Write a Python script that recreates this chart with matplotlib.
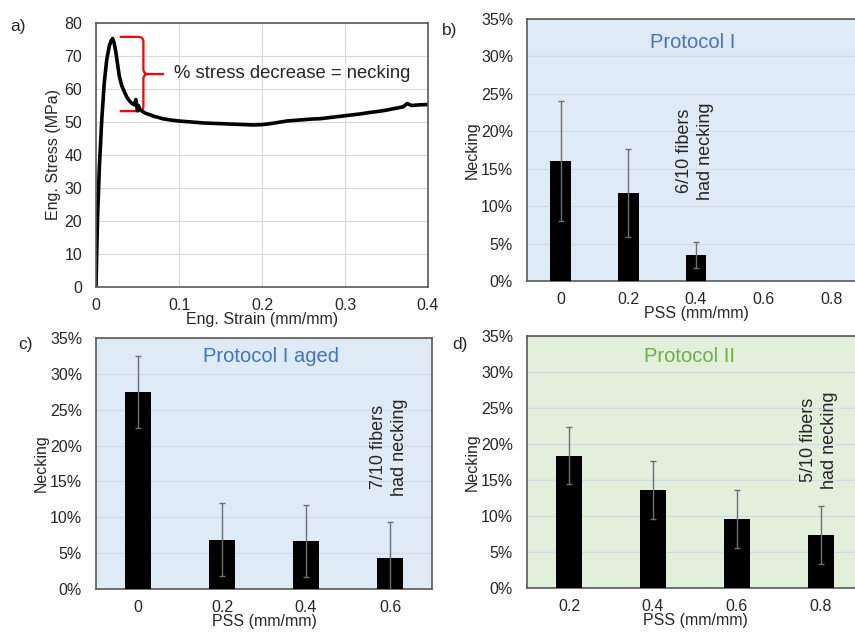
import numpy as np
import matplotlib
matplotlib.use("Agg")
import matplotlib.pyplot as plt
from matplotlib.path import Path
from matplotlib.patches import PathPatch

plt.rcParams['font.family'] = ['Liberation Sans', 'DejaVu Sans']

W, H = 855, 632

# --- panel a: stress-strain curve ---
strain = [0, 0.001, 0.002, 0.004, 0.007, 0.010, 0.013, 0.016, 0.018, 0.020,
          0.022, 0.024, 0.026, 0.028, 0.031, 0.034, 0.037, 0.040, 0.043, 0.046,
          0.048, 0.050, 0.051, 0.053, 0.056, 0.060, 0.065, 0.070, 0.075, 0.080,
          0.090, 0.100, 0.110, 0.120, 0.130, 0.140, 0.150, 0.160, 0.170, 0.180,
          0.190, 0.200, 0.210, 0.220, 0.230, 0.240, 0.250, 0.260, 0.270, 0.280,
          0.290, 0.300, 0.310, 0.320, 0.330, 0.340, 0.350, 0.360, 0.370, 0.375,
          0.380, 0.390, 0.400]
stress = [0, 12, 22, 36, 51, 62, 69, 73, 74.5, 75.3,
          73.8, 71, 67.5, 64, 61, 59.3, 57.6, 56.5, 55.7, 55.2,
          56.8, 53.4, 55.0, 53.8, 53.2, 52.6, 52.2, 51.7, 51.4, 51.0,
          50.6, 50.3, 50.1, 49.9, 49.7, 49.6, 49.5, 49.4, 49.3, 49.2,
          49.1, 49.2, 49.5, 49.9, 50.3, 50.5, 50.7, 50.9, 51.0, 51.3,
          51.6, 51.9, 52.2, 52.5, 52.9, 53.2, 53.6, 54.1, 54.6, 55.6,
          55.0, 55.2, 55.3]

# --- bar panels ---
pss_b = ["0", "0.2", "0.4", "0.6", "0.8"]
neck_b = [16.0, 11.8, 3.5, 0, 0]
err_b = [8.0, 5.9, 1.75, 0, 0]

pss_c = ["0", "0.2", "0.4", "0.6"]
neck_c = [27.5, 6.9, 6.7, 4.3]
err_c = [5.0, 5.1, 5.0, 5.0]

pss_d = ["0.2", "0.4", "0.6", "0.8"]
neck_d = [18.4, 13.6, 9.6, 7.4]
err_d = [4.0, 4.0, 4.0, 4.0]

# brace levels (MPa) and strain position
brace_top, brace_bot = 75.8, 53.3
brace_x0, brace_x1, brace_tip = 0.0286, 0.0571, 0.0821

TXT = '#262626'
SPINE = '#595959'
FS = 11.5


def box(l, t, r, b):
    return [l / W, (H - b) / H, (r - l) / W, (b - t) / H]


def ftext(x, y, s, **kw):
    fig.text(x / W, 1 - y / H, s, **kw)


fig = plt.figure(figsize=(W / 100, H / 100), dpi=100)

# ---------------- a) ----------------
ax = fig.add_axes(box(96, 23, 428, 287))
ax.plot(strain, stress, color='black', lw=2.6, solid_joinstyle='round')
ax.set_xlim(0, 0.4)
ax.set_ylim(0, 80)
ax.set_xticks([0, 0.1, 0.2, 0.3, 0.4])
ax.set_xticklabels(["0", "0.1", "0.2", "0.3", "0.4"])
ax.set_yticks(range(0, 81, 10))
ax.grid(True, color='#d9d9d9', lw=0.8)
ax.set_axisbelow(True)
ax.tick_params(length=0, labelsize=FS, colors=TXT)
ax.tick_params(axis='y', pad=10)
ax.tick_params(axis='x', pad=8)
for s in ax.spines.values():
    s.set_color(SPINE)
    s.set_linewidth(1.2)
ax.set_xlabel("Eng. Strain (mm/mm)", fontsize=FS, color=TXT, labelpad=-1)
ax.set_ylabel("Eng. Stress (MPa)", fontsize=FS, color=TXT, labelpad=2)

# red curly brace
ym = (brace_top + brace_bot) / 2
xc = brace_x1
r = 0.006
verts = [(brace_x0, brace_top), (xc - r, brace_top), (xc, brace_top), (xc, brace_top - 1.5),
         (xc, ym + 1.5), (xc, ym), (xc + r, ym), (brace_tip, ym),
         (xc + r, ym), (xc, ym), (xc, ym - 1.5),
         (xc, brace_bot + 1.5), (xc, brace_bot), (xc - r, brace_bot), (brace_x0, brace_bot)]
codes = [Path.MOVETO, Path.LINETO, Path.CURVE3, Path.CURVE3,
         Path.LINETO, Path.CURVE3, Path.CURVE3, Path.LINETO,
         Path.MOVETO, Path.CURVE3, Path.CURVE3,
         Path.LINETO, Path.CURVE3, Path.CURVE3, Path.LINETO]
ax.add_patch(PathPatch(Path(verts, codes), fill=False, edgecolor='#ff0000', lw=1.6))
ax.text(0.094, ym, "% stress decrease = necking", fontsize=13.3, color=TXT,
        va='center', ha='left')


def bar_panel(rect, cats, vals, errs, bg):
    a = fig.add_axes(rect)
    a.set_facecolor(bg)
    x = np.arange(len(cats))
    a.bar(x, vals, width=0.31, color='black', zorder=3)
    a.errorbar(x, vals, yerr=errs, fmt='none', ecolor='#6f6f6f', elinewidth=1,
               capsize=2.5, capthick=1, zorder=4)
    a.set_xlim(-0.5, len(cats) - 0.5)
    a.set_ylim(0, 35)
    a.set_xticks(x)
    a.set_xticklabels(cats)
    a.set_yticks(range(0, 36, 5))
    a.set_yticklabels([f"{v}%" for v in range(0, 36, 5)])
    a.yaxis.grid(True, color='#d3dbe3', lw=0.9)
    a.set_axisbelow(True)
    a.tick_params(length=0, labelsize=FS, colors=TXT)
    a.tick_params(axis='y', pad=10)
    a.tick_params(axis='x', pad=8)
    for s in a.spines.values():
        s.set_color(SPINE)
        s.set_linewidth(1.2)
    a.set_xlabel("PSS (mm/mm)", fontsize=FS, color=TXT, labelpad=-1)
    a.set_ylabel("Necking", fontsize=FS, color=TXT, labelpad=1)
    return a


bar_panel(box(527, 19, 865, 281), pss_b, neck_b, err_b, '#deebf7')
bar_panel(box(96, 338, 432, 589), pss_c, neck_c, err_c, '#deebf7')
bar_panel(box(527, 336, 863, 588), pss_d, neck_d, err_d, '#e2efda')

# titles inside panels
ftext(693, 43, "Protocol I", fontsize=14.5, color='#4472c4', ha='center', va='center')
ftext(271, 357, "Protocol I aged", fontsize=14.5, color='#4472c4', ha='center', va='center')
ftext(690, 357, "Protocol II", fontsize=14.5, color='#70ad47', ha='center', va='center')

# rotated notes
for x, y, s in [(695, 151, "6/10 fibers\nhad necking"),
                (389, 447, "7/10 fibers\nhad necking"),
                (819, 440, "5/10 fibers\nhad necking")]:
    ftext(x, y, s, fontsize=13, color=TXT, rotation=90,
          ha='center', va='center', linespacing=1.25)

# panel letters
ftext(18, 27, "a)", fontsize=12.5, color=TXT, ha='center', va='center')
ftext(450, 30, "b)", fontsize=12.5, color=TXT, ha='center', va='center')
ftext(25, 345, "c)", fontsize=12.5, color=TXT, ha='center', va='center')
ftext(460, 344, "d)", fontsize=12.5, color=TXT, ha='center', va='center')

fig.savefig("out.png", dpi=100)
